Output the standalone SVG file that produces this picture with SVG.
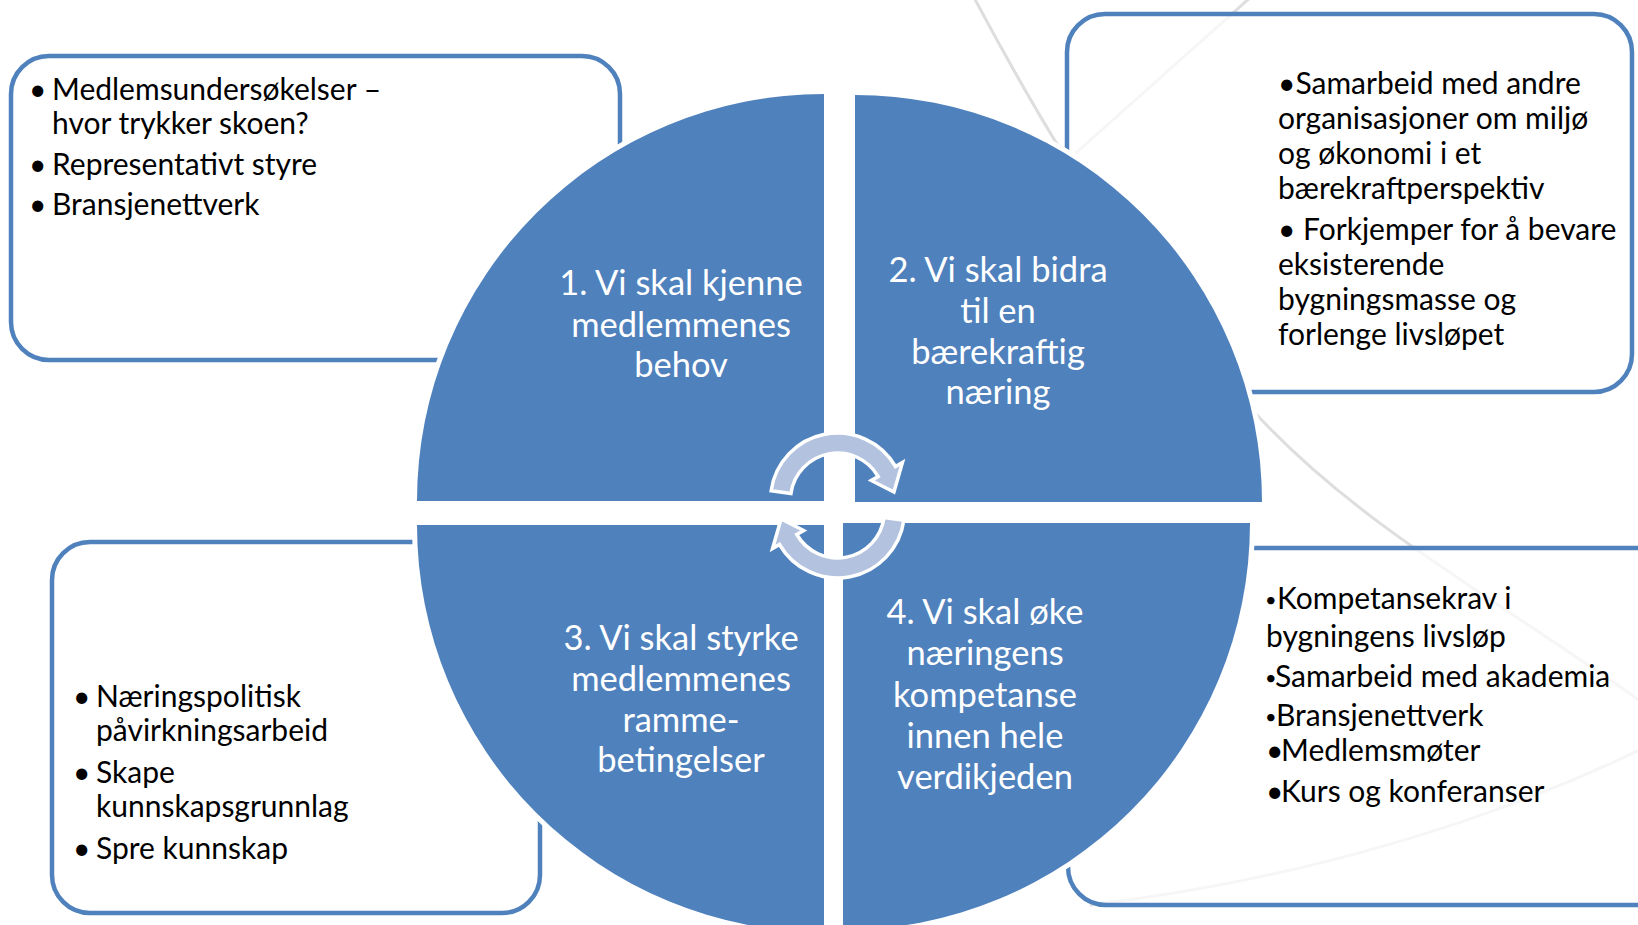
<svg xmlns="http://www.w3.org/2000/svg" width="1638" height="925" viewBox="0 0 1638 925">
<style>
  .swoosh { fill: none; stroke: #DEDEDE; stroke-width: 3; }
  .box { fill: #FFFFFF; fill-opacity: 0.72; stroke: #4F81BD; stroke-width: 4.5; }
  .quad { fill: #4F81BD; stroke: #FFFFFF; stroke-width: 10; paint-order: stroke; }
  .arrow { fill: #B3C2DE; stroke: #FFFFFF; stroke-width: 3.5; stroke-linejoin: miter; }
  .bt { font-family: Lato, "Liberation Sans", sans-serif; font-size: 30px; fill: #000000; }
  .bs { font-family: Lato, "Liberation Sans", sans-serif; font-size: 20px; fill: #000000; }
  .qt { font-family: Lato, "Liberation Sans", sans-serif; font-size: 34.5px; fill: #FFFFFF; text-anchor: middle; }
</style>
<rect x="0" y="0" width="1638" height="925" fill="#FFFFFF"/>

<g id="background-swooshes">
  <path class="swoosh" d="M 970 -10 C 1060 160 1150 300 1257 415 S 1500 600 1660 715"/>
  <path class="swoosh" d="M 1252 -4 L 1040 185"/>
  <path class="swoosh" d="M 1660 740 C 1500 820 1300 880 1090 905"/>
</g>

<g id="box-top-left">
  <rect class="box" x="11" y="56" width="609" height="304" rx="38" ry="38"/>
  <text class="bt" x="29" y="99.5">•</text>
  <text class="bt" x="52" y="99.5">Medlemsundersøkelser –</text>
  <text class="bt" x="52" y="133.5">hvor trykker skoen?</text>
  <text class="bt" x="29" y="174.5">•</text>
  <text class="bt" x="52" y="174.5">Representativt styre</text>
  <text class="bt" x="29" y="215">•</text>
  <text class="bt" x="52" y="215">Bransjenettverk</text>
</g>

<g id="box-top-right">
  <rect class="box" x="1067" y="14" width="565" height="378" rx="38" ry="38"/>
  <text class="bt" x="1278" y="93.5">•Samarbeid med andre</text>
  <text class="bt" x="1278" y="128.5">organisasjoner om miljø</text>
  <text class="bt" x="1278" y="163.5">og økonomi i et</text>
  <text class="bt" x="1278" y="199">bærekraftperspektiv</text>
  <text class="bt" x="1278" y="240">• Forkjemper for å bevare</text>
  <text class="bt" x="1278" y="275">eksisterende</text>
  <text class="bt" x="1278" y="310">bygningsmasse og</text>
  <text class="bt" x="1278" y="345">forlenge livsløpet</text>
</g>

<g id="box-bottom-left">
  <rect class="box" x="52" y="542" width="488" height="371" rx="38" ry="38"/>
  <text class="bt" x="73" y="706.5">•</text>
  <text class="bt" x="96" y="706.5">Næringspolitisk</text>
  <text class="bt" x="96" y="740.5">påvirkningsarbeid</text>
  <text class="bt" x="73" y="783">•</text>
  <text class="bt" x="96" y="783">Skape</text>
  <text class="bt" x="96" y="816.5">kunnskapsgrunnlag</text>
  <text class="bt" x="73" y="858.5">•</text>
  <text class="bt" x="96" y="858.5">Spre kunnskap</text>
</g>

<g id="box-bottom-right">
  <rect class="box" x="1068" y="548" width="620" height="357" rx="38" ry="38"/>
  <text class="bs" x="1265" y="607">•</text>
  <text class="bt" x="1277" y="609">Kompetansekrav i</text>
  <text class="bt" x="1266" y="647">bygningens livsløp</text>
  <text class="bs" x="1265" y="684.5">•</text>
  <text class="bt" x="1275" y="686.5">Samarbeid med akademia</text>
  <text class="bs" x="1265" y="723.5">•</text>
  <text class="bt" x="1276" y="725.5">Bransjenettverk</text>
  <text class="bt" x="1266" y="761">•</text>
  <text class="bt" x="1281" y="761">Medlemsmøter</text>
  <text class="bt" x="1266" y="801.5">•</text>
  <text class="bt" x="1281" y="801.5">Kurs og konferanser</text>
</g>

<g id="quadrant-1">
  <path class="quad" d="M 824 501 L 417 501 A 407 407 0 0 1 824 94 Z"/>
  <text class="qt" x="681" y="295">1. Vi skal kjenne</text>
  <text class="qt" x="681" y="336.5">medlemmenes</text>
  <text class="qt" x="681" y="377">behov</text>
</g>

<g id="quadrant-2">
  <path class="quad" d="M 855 502 L 855 95 A 407 407 0 0 1 1262 502 Z"/>
  <text class="qt" x="998" y="282">2. Vi skal bidra</text>
  <text class="qt" x="998" y="323">til en</text>
  <text class="qt" x="998" y="363.5">bærekraftig</text>
  <text class="qt" x="998" y="404">næring</text>
</g>

<g id="quadrant-3">
  <path class="quad" d="M 824 525 L 824 932 A 407 407 0 0 1 417 525 Z"/>
  <text class="qt" x="681" y="649.5">3. Vi skal styrke</text>
  <text class="qt" x="681" y="690.5">medlemmenes</text>
  <text class="qt" x="681" y="731.5">ramme-</text>
  <text class="qt" x="681" y="772">betingelser</text>
</g>

<g id="quadrant-4">
  <path class="quad" d="M 843 523 L 1250 523 A 407 407 0 0 1 843 930 Z"/>
  <text class="qt" x="985" y="624">4. Vi skal øke</text>
  <text class="qt" x="985" y="665">næringens</text>
  <text class="qt" x="985" y="706.5">kompetanse</text>
  <text class="qt" x="985" y="747.5">innen hele</text>
  <text class="qt" x="985" y="788.5">verdikjeden</text>
</g>

<g id="connectors">
  <path class="arrow" d="M 771.15 490.67 A 67 67 0 0 1 895.52 466.5 L 902.45 462.5 L 893.95 492.07 L 871.27 480.5 L 878.2 476.5 A 47 47 0 0 0 790.96 493.46 Z"/>
  <path class="arrow" d="M 903.85 520.33 A 67 67 0 0 1 779.48 544.5 L 772.55 548.5 L 781.05 518.93 L 803.73 530.5 L 796.8 534.5 A 47 47 0 0 0 884.04 517.54 Z"/>
</g>
</svg>
